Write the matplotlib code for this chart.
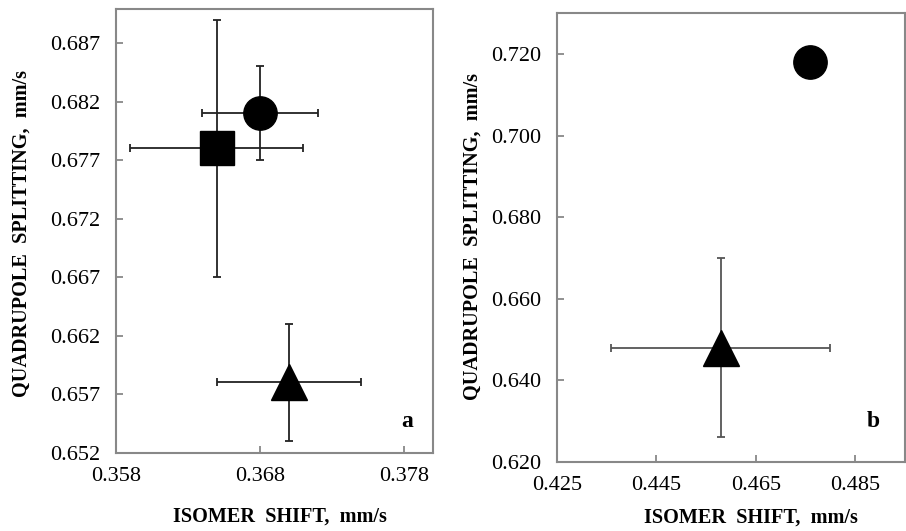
import matplotlib.pyplot as plt

plt.rcParams['font.family'] = ['Liberation Serif', 'DejaVu Serif']

# panel a
a_x = [0.365, 0.368, 0.370]
a_y = [0.678, 0.681, 0.658]
a_xerr = [0.006, 0.004, 0.005]
a_yerr = [0.011, 0.004, 0.005]
a_mark = ['s', 'o', '^']
a_xticks = [0.358, 0.368, 0.378]
a_yticks = [0.652, 0.657, 0.662, 0.667, 0.672, 0.677, 0.682, 0.687]

# panel b
b_x = [0.476, 0.458]
b_y = [0.718, 0.648]
b_xerr = [0.0, 0.022]
b_yerr = [0.0, 0.022]
b_mark = ['o', '^']
b_xticks = [0.425, 0.445, 0.465, 0.485]
b_yticks = [0.620, 0.640, 0.660, 0.680, 0.700, 0.720]

xlab = 'ISOMER  SHIFT,  mm/s'
ylab = 'QUADRUPOLE  SPLITTING,  mm/s'

fig = plt.figure(figsize=(9.06, 5.31), dpi=100)
ax1 = fig.add_axes([0.1277, 0.1475, 0.3503, 0.8355])
ax2 = fig.add_axes([0.6145, 0.1305, 0.3844, 0.8445])

msize = {'s': 24, 'o': 24, '^': 26}


def panel(ax, xs, ys, xe, ye, marks, ecol):
    for x, y, dx, dy, m in zip(xs, ys, xe, ye, marks):
        if dx > 0 or dy > 0:
            ax.errorbar(x, y, xerr=dx, yerr=dy, fmt='none', ecolor=ecol,
                        elinewidth=1.3, capsize=3, capthick=1.3, zorder=2)
        ax.plot(x, y, marker=m, color='black', markersize=msize[m],
                linestyle='none', zorder=3)
    for s in ax.spines.values():
        s.set_color('#888888')
        s.set_linewidth(1.5)
    ax.tick_params(direction='in', length=5, width=1.3, color='#888888',
                   labelsize=16)
    ax.tick_params(axis='x', pad=10)
    ax.tick_params(axis='y', pad=11)


panel(ax1, a_x, a_y, a_xerr, a_yerr, a_mark, '#222222')
ax1.set_xlim(0.358, 0.380)
ax1.set_ylim(0.652, 0.6899)
ax1.set_xticks(a_xticks)
ax1.set_xticklabels(['%.3f' % v for v in a_xticks])
ax1.set_yticks(a_yticks)
ax1.set_yticklabels(['%.3f' % v for v in a_yticks])
ax1.text(0.92, 0.07, 'a', transform=ax1.transAxes, fontsize=17,
         fontweight='bold', ha='center', va='center')

panel(ax2, b_x, b_y, b_xerr, b_yerr, b_mark, '#555555')
ax2.set_xlim(0.425, 0.495)
ax2.set_ylim(0.620, 0.730)
ax2.set_xticks(b_xticks)
ax2.set_xticklabels(['%.3f' % v for v in b_xticks])
ax2.set_yticks(b_yticks)
ax2.set_yticklabels(['%.3f' % v for v in b_yticks])
ax2.text(0.91, 0.09, 'b', transform=ax2.transAxes, fontsize=17,
         fontweight='bold', ha='center', va='center')

fig.text(280 / 906, 1 - 517 / 531, xlab, fontsize=14.6, fontweight='bold',
         ha='center', va='center')
fig.text(751 / 906, 1 - 518 / 531, xlab, fontsize=14.6, fontweight='bold',
         ha='center', va='center')
fig.text(22 / 906, 1 - 234 / 531, ylab, fontsize=14.6, fontweight='bold',
         ha='center', va='center', rotation=90)
fig.text(473 / 906, 1 - 237 / 531, ylab, fontsize=14.6, fontweight='bold',
         ha='center', va='center', rotation=90)

fig.savefig('out.png', dpi=100)
